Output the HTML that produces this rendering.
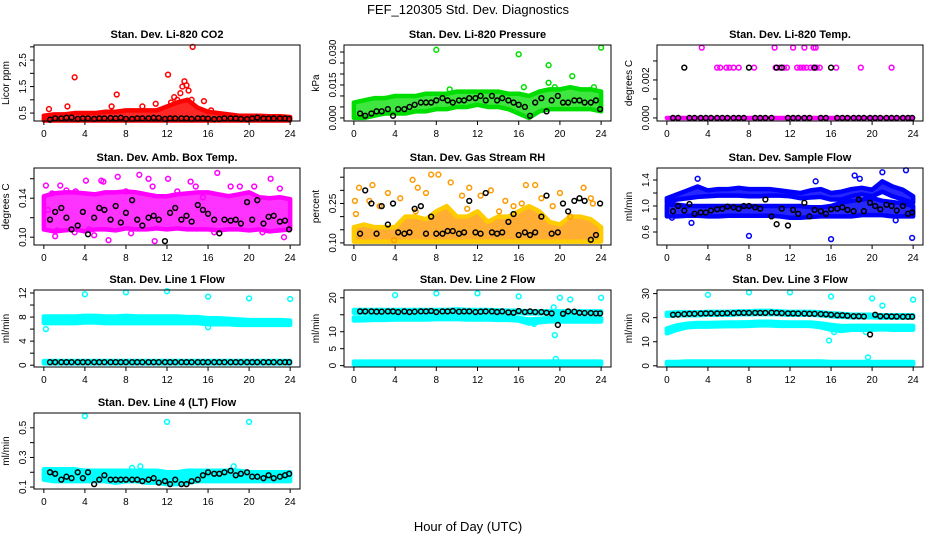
<!DOCTYPE html>
<html><head><meta charset="utf-8"><style>
html,body{margin:0;padding:0;background:#fff}
svg{display:block;font-family:"Liberation Sans",Arial,sans-serif}
</style></head><body>
<svg id="chart" width="936" height="540" viewBox="0 0 936 540">
<defs>
<pattern id="speck" width="3" height="3" patternUnits="userSpaceOnUse"><rect width="3" height="3" fill="#fff" fill-opacity="0.35"/><rect width="2" height="2" fill="#000" fill-opacity="0"/></pattern>
</defs>
<text x="468" y="14" font-size="13" text-anchor="middle">FEF_120305  Std. Dev. Diagnostics</text>
<text x="468" y="531" font-size="13" text-anchor="middle">Hour of Day (UTC)</text>
</svg>
<script>
const hrs=[0,1,2,3,4,5,6,7,8,9,10,11,12,13,14,15,16,17,18,19,20,21,22,23,24];
const kx=[0.6,1.1,1.7,2.2,2.7,3.3,3.8,4.3,4.9,5.4,5.9,6.5,7.0,7.5,8.0,8.6,9.1,9.6,10.2,10.7,11.2,11.8,12.3,12.8,13.4,13.9,14.4,15.0,15.5,16.0,16.6,17.1,17.6,18.2,18.7,19.2,19.8,20.3,20.8,21.4,21.9,22.4,23.0,23.5,23.9];

// CO2
const co2Lo=[0.22,0.22,0.22,0.22,0.22,0.22,0.22,0.22,0.22,0.22,0.22,0.22,0.22,0.22,0.22,0.22,0.22,0.22,0.22,0.22,0.22,0.22,0.22,0.22,0.22];
const co2Hi=[0.4,0.45,0.45,0.5,0.5,0.5,0.55,0.55,0.6,0.6,0.6,0.6,0.75,0.9,1.0,0.7,0.55,0.5,0.45,0.4,0.4,0.4,0.38,0.38,0.35];
const co2Px=[0.5,2.3,3.0,7.1,6.6,9.6,10.9,12.1,12.7,13.3,13.5,13.7,13.9,14.1,14.5,14.4,15.6,16.3,12.4,13.0];
const co2Py=[0.65,0.75,1.85,1.2,0.75,0.75,0.85,1.95,1.1,1.25,1.5,1.7,1.55,1.35,3.0,1.0,0.95,0.6,0.9,1.0];
const co2Ky=[0.25,0.3,0.3,0.32,0.33,0.28,0.3,0.3,0.28,0.3,0.3,0.31,0.3,0.32,0.28,0.28,0.3,0.3,0.3,0.32,0.31,0.28,0.3,0.3,0.3,0.3,0.28,0.3,0.3,0.29,0.27,0.28,0.3,0.3,0.3,0.28,0.27,0.3,0.33,0.3,0.3,0.3,0.3,0.3,0.28];
// Pressure
const presLo=[0.0,0.0,0.001,0.002,0.002,0.002,0.003,0.003,0.004,0.004,0.005,0.005,0.006,0.005,0.005,0.004,0.002,0.0,0.003,0.004,0.004,0.004,0.004,0.004,0.003];
const presHi=[0.007,0.008,0.009,0.009,0.010,0.010,0.010,0.011,0.011,0.011,0.012,0.012,0.012,0.012,0.012,0.011,0.011,0.010,0.012,0.013,0.013,0.014,0.013,0.013,0.012];
const presPx=[8,16,18.9,21.2,24,18.9,16.5,9.3,23.3,19.5];
const presPy=[0.031,0.029,0.024,0.019,0.032,0.016,0.014,0.013,0.014,0.014];
const presKy=[0.002,0.001,0.002,0.003,0.003,0.004,0.001,0.004,0.004,0.005,0.006,0.007,0.007,0.007,0.008,0.009,0.008,0.007,0.008,0.008,0.009,0.009,0.010,0.008,0.010,0.008,0.009,0.008,0.007,0.006,0.005,0.001,0.007,0.009,0.003,0.008,0.010,0.007,0.007,0.008,0.008,0.007,0.007,0.008,0.004];
// Li-820 Temp
const tempLo=[0,0,0,0,0,0,0,0,0,0,0,0,0,0,0,0,0,0,0,0,0,0,0,0,0];
const tempHi=[0,0,0,0,0,0,0,0,0,0,0,0,0,0,0,0,0,0,0,0,0,0,0,0,0];
const tempPx=[4.9,5.2,5.8,6.1,6.5,7.0,8.5,10.6,11.0,11.4,11.7,12.7,13.0,13.3,13.6,14.0,14.3,14.6,14.9,16.5,18.9,21.9,3.4,10.5,12.3,13.4,14.3,14.5];
const tempPy=[0.00265,0.00265,0.00265,0.00265,0.00265,0.00265,0.00265,0.00265,0.00265,0.00265,0.00265,0.00265,0.00265,0.00265,0.00265,0.00265,0.00265,0.00265,0.00265,0.00265,0.00265,0.00265,0.0037,0.0037,0.0037,0.0037,0.0037,0.0037];
const tempKy=[0,0,0.00265,0,0,0,0,0,0,0,0,0,0,0,0.00265,0,0,0,0,0.00265,0.00265,0,0,0,0,0,0.00265,0,0,0.00265,0,0,0,0,0,0,0,0,0,0,0,0,0,0,0];
// Amb box temp
const ambLo=[0.108,0.106,0.107,0.108,0.106,0.108,0.108,0.107,0.109,0.108,0.108,0.109,0.108,0.109,0.108,0.108,0.108,0.107,0.108,0.108,0.107,0.108,0.106,0.107,0.108];
const ambHi=[0.142,0.145,0.146,0.146,0.145,0.144,0.146,0.146,0.147,0.146,0.144,0.142,0.142,0.144,0.145,0.146,0.146,0.144,0.142,0.144,0.146,0.141,0.140,0.141,0.139];
const ambPx=[0.2,0.4,1.1,1.6,2.2,3.1,4.1,4.9,5.6,5.8,7.2,8.0,9.3,10.2,10.6,12.1,13.0,14.3,14.8,15.5,16.9,18.2,19.1,20.5,22.1,23.0,6.3,10.8,0.8,1.3,3.0,4.4,16.6,21.3,23.4,8.5];
const ambPy=[0.153,0.128,0.101,0.153,0.148,0.147,0.158,0.102,0.158,0.157,0.162,0.147,0.164,0.160,0.152,0.160,0.147,0.157,0.152,0.141,0.166,0.152,0.152,0.152,0.160,0.150,0.097,0.096,0.145,0.107,0.105,0.108,0.105,0.105,0.100,0.104];
const ambKy=[0.118,0.126,0.13,0.12,0.108,0.112,0.126,0.103,0.12,0.13,0.128,0.118,0.132,0.115,0.125,0.138,0.118,0.112,0.12,0.122,0.118,0.096,0.125,0.13,0.118,0.122,0.116,0.133,0.128,0.124,0.118,0.104,0.118,0.117,0.118,0.114,0.136,0.118,0.138,0.114,0.121,0.122,0.116,0.117,0.108];
// Gas stream RH
const rhLo=[0.105,0.105,0.105,0.105,0.105,0.105,0.105,0.105,0.105,0.105,0.105,0.105,0.105,0.105,0.105,0.105,0.105,0.105,0.105,0.105,0.105,0.105,0.105,0.105,0.105];
const rhHi=[0.16,0.17,0.16,0.16,0.16,0.2,0.2,0.19,0.22,0.24,0.2,0.2,0.22,0.18,0.2,0.2,0.22,0.24,0.22,0.18,0.17,0.2,0.2,0.19,0.16];
const rhPx=[0.2,0.5,1.8,3.3,4.5,5.7,6.2,7.0,7.5,8.2,3.9,9.4,10.5,11.2,12.3,13.3,14.1,14.7,16.7,17.6,18.2,19.3,20.0,22.3,23.0,23.2,2.5,6.0,11.0,15.5,16.3,21.0,0.1,1.5];
const rhPy=[0.21,0.31,0.32,0.29,0.27,0.34,0.31,0.29,0.36,0.36,0.11,0.33,0.28,0.31,0.28,0.3,0.22,0.26,0.32,0.32,0.27,0.24,0.29,0.31,0.27,0.25,0.24,0.22,0.23,0.24,0.25,0.2,0.26,0.26];
const rhKy=[0.135,0.3,0.25,0.135,0.24,0.17,0.25,0.14,0.135,0.14,0.23,0.24,0.135,0.2,0.135,0.135,0.145,0.145,0.135,0.14,0.26,0.14,0.135,0.29,0.14,0.135,0.14,0.18,0.21,0.13,0.14,0.13,0.14,0.2,0.28,0.135,0.14,0.25,0.22,0.26,0.27,0.26,0.112,0.13,0.25];
// Sample flow
const sfLo=[0.84,0.84,0.85,0.85,0.84,0.84,0.85,0.85,0.85,0.85,0.85,0.84,0.82,0.82,0.83,0.84,0.84,0.84,0.84,0.86,0.86,0.86,0.84,0.84,0.84];
const sfHi=[1.02,1.02,1.0,1.0,1.0,1.0,1.0,1.0,1.0,1.0,1.0,1.0,1.0,1.0,0.98,0.98,1.0,1.05,1.08,1.1,1.12,1.08,1.06,1.04,1.0];
const sfLo2=[1.05,1.1,1.12,1.14,1.15,1.16,1.16,1.16,1.15,1.15,1.16,1.16,1.15,1.12,1.13,1.14,1.1,1.1,1.15,1.18,1.15,1.22,1.15,1.1,1.05];
const sfHi2=[1.12,1.18,1.24,1.3,1.24,1.26,1.26,1.28,1.26,1.26,1.26,1.24,1.22,1.2,1.24,1.26,1.2,1.22,1.26,1.28,1.25,1.38,1.3,1.25,1.15];
const sfPx=[2.4,8.0,16.0,23.9,18.3,18.8,21.0,23.3,0.5,3.0,14.5,22.3];
const sfPy=[0.74,0.54,0.49,0.51,1.47,1.42,1.52,1.55,0.82,1.42,1.38,0.78];
const sfKy=[0.92,1.0,0.93,1.03,0.88,0.9,0.9,0.93,0.95,0.96,0.99,0.98,0.96,1.0,1.0,0.98,0.96,1.1,0.84,0.72,0.96,0.7,0.94,0.88,1.05,0.84,0.94,0.92,0.88,0.95,0.96,0.98,0.94,0.92,1.1,0.92,1.05,1.0,0.95,1.02,1.0,0.93,1.0,0.88,0.9];
// Line 1
const l1Lo=[7.0,7.0,7.0,7.0,7.1,7.1,7.0,7.0,7.0,7.0,7.0,7.0,7.0,7.0,7.0,7.0,6.8,6.8,6.8,6.7,6.7,6.7,6.7,6.7,6.7];
const l1Hi=[8.1,8.1,8.1,8.1,8.2,8.2,8.1,8.1,8.2,8.1,8.1,8.1,8.1,8.1,8.0,8.0,7.8,7.8,7.7,7.6,7.5,7.5,7.5,7.5,7.4];
const l1Lo2=[0.3,0.3,0.3,0.3,0.3,0.3,0.3,0.3,0.3,0.3,0.3,0.3,0.3,0.3,0.3,0.3,0.3,0.3,0.3,0.3,0.3,0.3,0.3,0.3,0.3];
const l1Hi2=[0.7,0.7,0.7,0.7,0.7,0.7,0.7,0.7,0.7,0.7,0.7,0.7,0.7,0.7,0.7,0.7,0.7,0.7,0.7,0.7,0.7,0.7,0.7,0.7,0.7];
const l1Px=[4,8,12,16,20,24,0.2,16];
const l1Py=[11.8,12.1,12.3,11.4,11.1,11.0,6.0,6.3];
const l1Ky=[0.5,0.5,0.5,0.5,0.5,0.5,0.5,0.5,0.5,0.5,0.5,0.5,0.5,0.5,0.5,0.5,0.5,0.5,0.5,0.5,0.5,0.5,0.5,0.5,0.5,0.5,0.5,0.5,0.5,0.5,0.5,0.5,0.5,0.5,0.5,0.5,0.5,0.5,0.5,0.5,0.5,0.5,0.5,0.5,0.5];
// Line 2
const l2Lo=[15.6,15.6,15.6,15.6,15.6,15.6,15.6,15.6,15.6,15.6,15.7,15.6,15.6,15.6,15.5,15.5,15.5,15.4,15.4,15.4,15.4,15.4,15.4,15.4,15.4];
const l2Hi=[16.4,16.4,16.4,16.4,16.4,16.4,16.4,16.4,16.4,16.4,16.6,16.4,16.4,16.4,16.3,16.2,16.2,16.0,16.0,16.0,16.0,16.0,16.0,16.0,16.0];
const l2Lo3=[13.3,13.4,13.5,13.5,13.6,13.6,13.6,13.6,13.7,13.7,13.7,13.6,13.6,13.6,13.5,13.5,13.3,12.4,12.8,13.1,13.0,13.0,13.0,13.0,13.0];
const l2Hi3=[14.2,14.2,14.3,14.3,14.4,14.4,14.4,14.4,14.5,14.5,14.5,14.4,14.4,14.4,14.3,14.3,14.0,13.6,13.8,14.0,14.2,14.2,14.0,14.0,14.0];
const l2Lo2=[0.4,0.4,0.4,0.4,0.4,0.4,0.4,0.4,0.4,0.4,0.4,0.4,0.4,0.4,0.4,0.4,0.4,0.4,0.4,0.4,0.4,0.4,0.4,0.4,0.4];
const l2Hi2=[1.2,1.2,1.2,1.2,1.2,1.2,1.2,1.2,1.2,1.2,1.2,1.2,1.2,1.2,1.2,1.2,1.2,1.2,1.2,1.2,1.2,1.2,1.2,1.2,1.2];
const l2Px=[4,8,12,16,19.5,19.6,20,21,24,17.5,19.4];
const l2Py=[20.8,21.3,21.3,20.4,9,2,20,19.5,20,12.3,17.2];
const l2Ky=[16,16,16,15.9,15.9,16,16,15.8,16,15.8,15.9,16,16,16.1,15.8,16,16,16.1,15.9,16,16,15.8,15.9,16,16,15.8,16,15.7,15.6,16.1,15.8,16,15.8,15.8,15.6,15.4,12,15.3,16,15.9,15.6,15.5,15.5,15.4,15.4];
// Line 3
const l3Lo=[20.8,21.0,21.0,21.0,21.2,21.2,21.2,21.4,21.4,21.5,21.5,21.4,21.2,21.2,21.2,21.0,20.6,20.4,20.2,20.2,20.2,20.0,20.0,20.0,20.0];
const l3Hi=[22,22.2,22.2,22.2,22.4,22.4,22.4,22.6,22.6,22.8,22.8,22.6,22.4,22.4,22.4,22.2,21.8,21.6,21.2,21.2,21.2,21.0,21.0,21.0,21.0];
const l3Lo3=[13.5,15,16,16.3,16.3,16.4,16.5,16.5,16.6,16.8,16.8,16.6,16.6,16.6,16.6,16.0,15.0,14.5,15.0,15.0,15.0,15.2,15.0,15.0,15.0];
const l3Hi3=[15.5,16.8,17.5,17.8,17.8,17.9,18.0,18.0,18.1,18.3,18.3,18.1,18.0,18.0,18.0,17.6,17.0,16.5,16.6,16.6,16.6,16.6,16.6,16.6,16.6];
const l3Lo2=[0.6,0.6,0.6,0.6,0.6,0.6,0.6,0.6,0.6,0.6,0.6,0.6,0.6,0.6,0.6,0.6,0.6,0.6,0.6,0.6,0.6,0.6,0.6,0.6,0.6];
const l3Hi2=[1.6,1.6,1.8,1.8,1.8,1.8,1.8,1.8,1.8,1.8,1.8,1.8,1.8,1.8,1.8,1.8,1.6,1.6,1.6,1.6,1.6,1.6,1.6,1.6,1.6];
const l3Px=[4,8,12,16,20,21,24,15.8,19.6,0.1,16.3,19.4];
const l3Py=[29.5,30.5,30.5,28.8,28,25,27.5,10.5,3.5,14,14,14];
const l3Ky=[21.2,21.3,21.5,21.6,21.6,21.7,21.8,21.8,21.8,21.8,21.9,21.9,22,22,22,22,22,22,22.1,22,21.9,21.8,21.8,21.7,21.7,21.6,21.6,21.5,21.4,21.2,21,21,20.8,20.6,20.6,20.5,13,21.2,20.6,20.6,20.5,20.5,20.4,20.4,20.4];
// Line 4
const l4Lo=[0.15,0.14,0.14,0.14,0.14,0.14,0.14,0.13,0.14,0.14,0.13,0.13,0.12,0.12,0.13,0.14,0.14,0.14,0.14,0.14,0.14,0.14,0.14,0.14,0.14];
const l4Hi=[0.22,0.22,0.22,0.22,0.21,0.21,0.21,0.21,0.21,0.21,0.21,0.21,0.2,0.2,0.21,0.21,0.21,0.21,0.21,0.21,0.2,0.2,0.2,0.2,0.2];
const l4Px=[4,12,20,8.6,9.4,18.5];
const l4Py=[0.58,0.54,0.54,0.23,0.24,0.24];
const l4Ky=[0.2,0.19,0.15,0.17,0.16,0.2,0.16,0.2,0.12,0.15,0.18,0.15,0.15,0.15,0.15,0.15,0.15,0.14,0.15,0.16,0.13,0.14,0.12,0.15,0.12,0.12,0.14,0.15,0.18,0.2,0.19,0.19,0.2,0.21,0.18,0.19,0.2,0.17,0.17,0.16,0.18,0.16,0.17,0.18,0.19];

const xTicks=[0,4,8,12,16,20,24];
const NS='http://www.w3.org/2000/svg';
const svg=document.getElementById('chart');
function mk(tag,attrs,parent){const e=document.createElementNS(NS,tag);for(const k in attrs)e.setAttribute(k,attrs[k]);(parent||svg).appendChild(e);return e;}

const cols=[[34,300],[344,611],[657,923]];
const rows=[[45,121],[168,245],[290,367],[413,489]];

const panels=[
 {slug:'co2',title:'Stan. Dev. Li-820 CO2',ylab:'Licor ppm',c:0,r:0,ymin:0.2,ymax:3.07,ticks:[0.5,1,1.5,2,2.5,3],labels:[0.5,1.5,2.5],dec:1,col:'#ff0000',ed:'#ff0000',op:0.85,bands:[[co2Lo,co2Hi]],px:co2Px,py:co2Py,ky:co2Ky},
 {slug:'pressure',title:'Stan. Dev. Li-820 Pressure',ylab:'kPa',c:1,r:0,ymin:-0.0014,ymax:0.0332,ticks:[0,0.005,0.01,0.015,0.02,0.025,0.03],labels:[0,0.015,0.03],dec:3,col:'#00dd00',ed:'#00dd00',op:0.75,bands:[[presLo,presHi]],px:presPx,py:presPy,ky:presKy},
 {slug:'li-temp',title:'Stan. Dev. Li-820 Temp.',ylab:'degrees C',c:2,r:0,ymin:-0.00016,ymax:0.00384,ticks:[0,0.001,0.002,0.003],labels:[0,0.002],dec:3,col:'#ff00ff',ed:'#ff00ff',op:1,bands:[[tempLo,tempHi]],px:tempPx,py:tempPy,ky:tempKy},
 {slug:'amb-temp',title:'Stan. Dev. Amb. Box Temp.',ylab:'degrees C',c:0,r:1,ymin:0.092,ymax:0.171,ticks:[0.1,0.12,0.14,0.16],labels:[0.1,0.14],dec:2,col:'#ff00ff',ed:'#ff00ff',op:0.8,bands:[[ambLo,ambHi]],px:ambPx,py:ambPy,ky:ambKy},
 {slug:'rh',title:'Stan. Dev. Gas Stream RH',ylab:'percent',c:1,r:1,ymin:0.092,ymax:0.385,ticks:[0.1,0.15,0.2,0.25,0.3,0.35],labels:[0.1,0.25],dec:2,col:'#ff9900',ed:'#ffcc00',op:0.8,bands:[[rhLo,rhHi]],px:rhPx,py:rhPy,ky:rhKy},
 {slug:'sample-flow',title:'Stan. Dev. Sample Flow',ylab:'ml/min',c:2,r:1,ymin:0.40,ymax:1.585,ticks:[0.6,0.8,1.0,1.2,1.4],labels:[0.6,1.0,1.4],dec:1,col:'#0000ff',ed:'#0000ff',op:0.85,bands:[[sfLo,sfHi],[sfLo2,sfHi2]],px:sfPx,py:sfPy,ky:sfKy},
 {slug:'line1',title:'Stan. Dev. Line 1 Flow',ylab:'ml/min',c:0,r:2,ymin:-0.3,ymax:12.5,ticks:[0,2,4,6,8,10,12],labels:[0,4,8,12],dec:0,col:'#00ffff',ed:'#00ffff',op:1,bands:[[l1Lo,l1Hi],[l1Lo2,l1Hi2]],px:l1Px,py:l1Py,ky:l1Ky},
 {slug:'line2',title:'Stan. Dev. Line 2 Flow',ylab:'ml/min',c:1,r:2,ymin:-0.4,ymax:22.3,ticks:[0,5,10,15,20],labels:[0,5,10,20],dec:0,col:'#00ffff',ed:'#00ffff',op:1,bands:[[l2Lo,l2Hi],[l2Lo3,l2Hi3],[l2Lo2,l2Hi2]],px:l2Px,py:l2Py,ky:l2Ky},
 {slug:'line3',title:'Stan. Dev. Line 3 Flow',ylab:'ml/min',c:2,r:2,ymin:-0.5,ymax:31.5,ticks:[0,10,20,30],labels:[0,10,20,30],dec:0,col:'#00ffff',ed:'#00ffff',op:1,bands:[[l3Lo,l3Hi],[l3Lo3,l3Hi3],[l3Lo2,l3Hi2]],px:l3Px,py:l3Py,ky:l3Ky},
 {slug:'line4',title:'Stan. Dev. Line 4 (LT) Flow',ylab:'ml/min',c:0,r:3,ymin:0.087,ymax:0.6,ticks:[0.1,0.2,0.3,0.4,0.5],labels:[0.1,0.3,0.5],dec:1,col:'#00ffff',ed:'#00ffff',op:1,bands:[[l4Lo,l4Hi]],px:l4Px,py:l4Py,ky:l4Ky}
];

panels.forEach(p=>{
  const [L,R]=cols[p.c],[T,B]=rows[p.r];
  const xs=v=>L+(v+0.96)/25.92*(R-L);
  const ys=v=>B-(v-p.ymin)/(p.ymax-p.ymin)*(B-T);
  const g=mk('g',{});
  
  
  const t=mk('text',{x:(L+R)/2,y:T-7,'font-size':11,'font-weight':'bold','text-anchor':'middle'},g);
  t.textContent=p.title;
  
  
  const yl=mk('text',{x:0,y:0,'font-size':10,'text-anchor':'middle',transform:`translate(${L-25},${(T+B)/2}) rotate(-90)`},g);
  yl.textContent=p.ylab;
  
  
  p.bands.forEach(bd=>{
    const [lo,hi]=bd;
    let pts=hrs.map((h,i)=>xs(h)+','+ys(hi[i]));
    pts=pts.concat(hrs.slice().reverse().map((h,j)=>{const i=hrs.length-1-j;return xs(h)+','+ys(lo[i]);}));
    const pg=mk('polygon',{points:pts.join(' '),fill:p.col,'fill-opacity':p.op,stroke:p.ed,'stroke-width':4.5,'stroke-linejoin':'round'},g);
    
    
  });
  p.px.forEach((x,i)=>{
    const c=mk('circle',{cx:xs(x),cy:ys(p.py[i]),r:2.4,fill:'none',stroke:p.col,'stroke-width':1.5},g);
    
    
  });
  kx.forEach((x,i)=>{
    const c=mk('circle',{cx:xs(x),cy:ys(p.ky[i]),r:2.4,fill:'none',stroke:'#000','stroke-width':1.5},g);
    
    
  });
  const box=mk('rect',{x:L,y:T,width:R-L,height:B-T,fill:'none',stroke:'#000','stroke-width':1},g);
  
  
  mk('line',{x1:xs(0),x2:xs(24),y1:B,y2:B,stroke:'#000'},g);
  xTicks.forEach(v=>{
    mk('line',{x1:xs(v),x2:xs(v),y1:B,y2:B+4,stroke:'#000'},g);
    const tl=mk('text',{x:xs(v),y:B+16,'font-size':10,'text-anchor':'middle'},g);
    tl.textContent=v;
    
    
  });
  p.ticks.forEach(v=>mk('line',{x1:L-4,x2:L,y1:ys(v),y2:ys(v),stroke:'#000'},g));
  p.labels.forEach(v=>{
    const tl=mk('text',{x:0,y:0,'font-size':10,'text-anchor':'middle',transform:`translate(${L-8},${ys(v)}) rotate(-90)`},g);
    tl.textContent=v.toFixed(p.dec);
    
    
  });
});
</script>
</body></html>
